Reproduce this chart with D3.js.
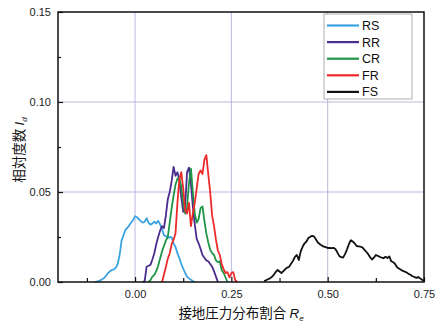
<!DOCTYPE html>
<html>
<head>
<meta charset="utf-8">
<script src="https://cdn.jsdelivr.net/npm/d3@7"></script>
<style>
  html, body { margin: 0; padding: 0; background: #fff; }
  svg { display: block; }
  text { font-family: "Liberation Sans", Arial, sans-serif; }
  .cjk { font-family: "Noto Sans CJK JP", "Noto Sans CJK SC", sans-serif; }
</style>
</head>
<body>
<svg id="chart" width="435" height="329"></svg>
<script>
// Histogram bin width shared by every series (R_e)
const binWidth = 0.005;

// Series names, first bin centre and relative frequency per bin
const seriesNames = ["RS", "RR", "CR", "FR", "FS"];
const seriesColors = ["#3aa3e0", "#4b2d8e", "#1f9447", "#ef2a2a", "#111111"];
const seriesStart = [-0.105, 0.020, 0.035, 0.070, 0.335];

const rsValues = [
  0.0000, 0.0002, 0.0005, 0.0010, 0.0015, 0.0023, 0.0035, 0.0050, 0.0060, 0.0067,
  0.0070, 0.0080, 0.0100, 0.0150, 0.0230, 0.0260, 0.0290, 0.0300, 0.0315, 0.0330,
  0.0345, 0.0365, 0.0360, 0.0348, 0.0338, 0.0330, 0.0335, 0.0355, 0.0330, 0.0318,
  0.0325, 0.0335, 0.0325, 0.0340, 0.0320, 0.0295, 0.0260, 0.0255, 0.0245, 0.0250,
  0.0248, 0.0215, 0.0195, 0.0160, 0.0133, 0.0100, 0.0075, 0.0050, 0.0030, 0.0020,
  0.0012, 0.0005, 0.0000
];
const rrValues = [
  0.0000, 0.0005, 0.0085, 0.0090, 0.0095, 0.0125, 0.0160, 0.0210, 0.0250, 0.0285,
  0.0310, 0.0300, 0.0370, 0.0460, 0.0500, 0.0560, 0.0640, 0.0590, 0.0610, 0.0565,
  0.0470, 0.0390, 0.0420, 0.0610, 0.0635, 0.0545, 0.0420, 0.0320, 0.0240, 0.0215,
  0.0185, 0.0150, 0.0135, 0.0120, 0.0115, 0.0100, 0.0085, 0.0060, 0.0030, 0.0000
];
const crValues = [
  0.0000, 0.0010, 0.0030, 0.0040, 0.0060, 0.0090, 0.0130, 0.0170, 0.0200, 0.0230,
  0.0250, 0.0330, 0.0410, 0.0480, 0.0540, 0.0575, 0.0580, 0.0530, 0.0440, 0.0380,
  0.0420, 0.0550, 0.0630, 0.0500, 0.0380, 0.0330, 0.0350, 0.0410, 0.0420, 0.0340,
  0.0270, 0.0220, 0.0180, 0.0160, 0.0150, 0.0120, 0.0110, 0.0115, 0.0065, 0.0050,
  0.0025, 0.0000
];
const frValues = [
  0.0000, 0.0040, 0.0083, 0.0130, 0.0160, 0.0210, 0.0235, 0.0270, 0.0440, 0.0570,
  0.0610, 0.0520, 0.0400, 0.0380, 0.0440, 0.0310, 0.0380, 0.0440, 0.0520, 0.0600,
  0.0620, 0.0600, 0.0680, 0.0705, 0.0600, 0.0500, 0.0370, 0.0310, 0.0235, 0.0175,
  0.0150, 0.0100, 0.0070, 0.0050, 0.0055, 0.0025, 0.0050, 0.0055, 0.0010, 0.0000
];
const fsValues = [
  0.0005, 0.0010, 0.0015, 0.0020, 0.0028, 0.0040, 0.0055, 0.0067, 0.0058, 0.0050,
  0.0060, 0.0072, 0.0080, 0.0085, 0.0102, 0.0118, 0.0140, 0.0150, 0.0122, 0.0170,
  0.0196, 0.0215, 0.0225, 0.0245, 0.0252, 0.0256, 0.0252, 0.0235, 0.0218, 0.0210,
  0.0202, 0.0196, 0.0194, 0.0189, 0.0190, 0.0188, 0.0190, 0.0183, 0.0165, 0.0145,
  0.0138, 0.0135, 0.0155, 0.0180, 0.0210, 0.0232, 0.0225, 0.0215, 0.0200, 0.0198,
  0.0196, 0.0192, 0.0180, 0.0168, 0.0155, 0.0138, 0.0125, 0.0135, 0.0150, 0.0145,
  0.0140, 0.0135, 0.0132, 0.0140, 0.0133, 0.0142, 0.0115, 0.0110, 0.0100, 0.0082,
  0.0075, 0.0068, 0.0062, 0.0058, 0.0053, 0.0045, 0.0040, 0.0032, 0.0028, 0.0023,
  0.0028, 0.0020, 0.0012, 0.0008
];
const seriesValues = [rsValues, rrValues, crValues, frValues, fsValues];

// Axis ticks
const xMajorTicks = [0, 0.25, 0.5, 0.75];
const xMinorTicks = [-0.125, 0.125, 0.375, 0.625];
const yMajorTicks = [0, 0.05, 0.10, 0.15];
const yMinorTicks = [0.025, 0.075, 0.125];
const xGrid = [0, 0.25, 0.5];
const yGrid = [0.05, 0.10];

const svg = d3.select("#chart");
const plotLeft = 58, plotRight = 424, plotTop = 12, plotBottom = 282;

const x = d3.scaleLinear().domain([-0.2, 0.75]).range([plotLeft, plotRight]);
const y = d3.scaleLinear().domain([0, 0.15]).range([plotBottom, plotTop]);

// Grid lines
const grid = svg.append("g").attr("stroke", "#a9a4d6").attr("stroke-width", 0.8);
grid.selectAll("line.gx").data(xGrid).join("line")
  .attr("x1", d => x(d)).attr("x2", d => x(d)).attr("y1", plotTop).attr("y2", plotBottom);
grid.selectAll("line.gy").data(yGrid).join("line")
  .attr("x1", plotLeft).attr("x2", plotRight).attr("y1", d => y(d)).attr("y2", d => y(d));

// Axes with inward ticks
function styleAxis(g) {
  g.select(".domain").remove();
  g.selectAll(".tick line").attr("stroke", "#111").attr("stroke-width", 1.2);
  g.selectAll("text").attr("fill", "#222").attr("font-size", 11)
    .attr("font-family", "'Liberation Sans', Arial, sans-serif");
}
svg.append("g").attr("transform", `translate(0,${plotBottom})`)
  .call(d3.axisBottom(x).tickValues(xMajorTicks).tickFormat(d3.format(".2f"))
    .tickSize(-5).tickPadding(8))
  .call(styleAxis);
svg.append("g").attr("transform", `translate(0,${plotBottom})`)
  .call(d3.axisBottom(x).tickValues(xMinorTicks).tickFormat("").tickSize(-4))
  .call(styleAxis);
svg.append("g").attr("transform", `translate(${plotLeft},0)`)
  .call(d3.axisLeft(y).tickValues(yMajorTicks).tickFormat(d3.format(".2f"))
    .tickSize(-5).tickPadding(7))
  .call(styleAxis);
svg.append("g").attr("transform", `translate(${plotLeft},0)`)
  .call(d3.axisLeft(y).tickValues(yMinorTicks).tickFormat("").tickSize(-3))
  .call(styleAxis);

// Series lines
const line = d3.line().x(d => x(d[0])).y(d => y(d[1]));
const plot = svg.append("g");
seriesNames.forEach((name, i) => {
  const pts = seriesValues[i].map((v, j) => [seriesStart[i] + j * binWidth, v]);
  plot.append("path").datum(pts)
    .attr("fill", "none")
    .attr("stroke", seriesColors[i])
    .attr("stroke-width", 1.8)
    .attr("stroke-linejoin", "round")
    .attr("d", line);
});

// Plot frame
svg.append("rect")
  .attr("x", plotLeft).attr("y", plotTop)
  .attr("width", plotRight - plotLeft).attr("height", plotBottom - plotTop)
  .attr("fill", "none").attr("stroke", "#111").attr("stroke-width", 1.5);

// Legend
const legend = svg.append("g");
legend.append("rect")
  .attr("x", 324).attr("y", 14).attr("width", 88).attr("height", 85)
  .attr("fill", "#fff").attr("stroke", "#999").attr("stroke-width", 0.8);
seriesNames.forEach((name, i) => {
  const ly = 25.5 + i * 16.6;
  legend.append("line")
    .attr("x1", 327).attr("x2", 359).attr("y1", ly).attr("y2", ly)
    .attr("stroke", seriesColors[i]).attr("stroke-width", 2.2);
  legend.append("text")
    .attr("x", 362).attr("y", ly).attr("dy", "0.36em")
    .attr("font-size", 12.5).attr("fill", "#111")
    .text(name);
});

// Axis titles
const xt = svg.append("text")
  .attr("x", 241).attr("y", 318).attr("text-anchor", "middle")
  .attr("font-size", 13.5).attr("fill", "#111");
xt.append("tspan").attr("class", "cjk").text("接地圧力分布割合 ");
xt.append("tspan").attr("font-style", "italic").text("R");
xt.append("tspan").attr("font-style", "italic").attr("font-size", 8).attr("dy", 3).text("e");

const yt = svg.append("text")
  .attr("transform", "translate(24,150) rotate(-90)")
  .attr("text-anchor", "middle")
  .attr("font-size", 13.5).attr("fill", "#111");
yt.append("tspan").attr("class", "cjk").text("相対度数 ");
yt.append("tspan").attr("font-style", "italic").text("I");
yt.append("tspan").attr("font-style", "italic").attr("font-size", 8).attr("dy", 3).text("d");
</script>
</body>
</html>
